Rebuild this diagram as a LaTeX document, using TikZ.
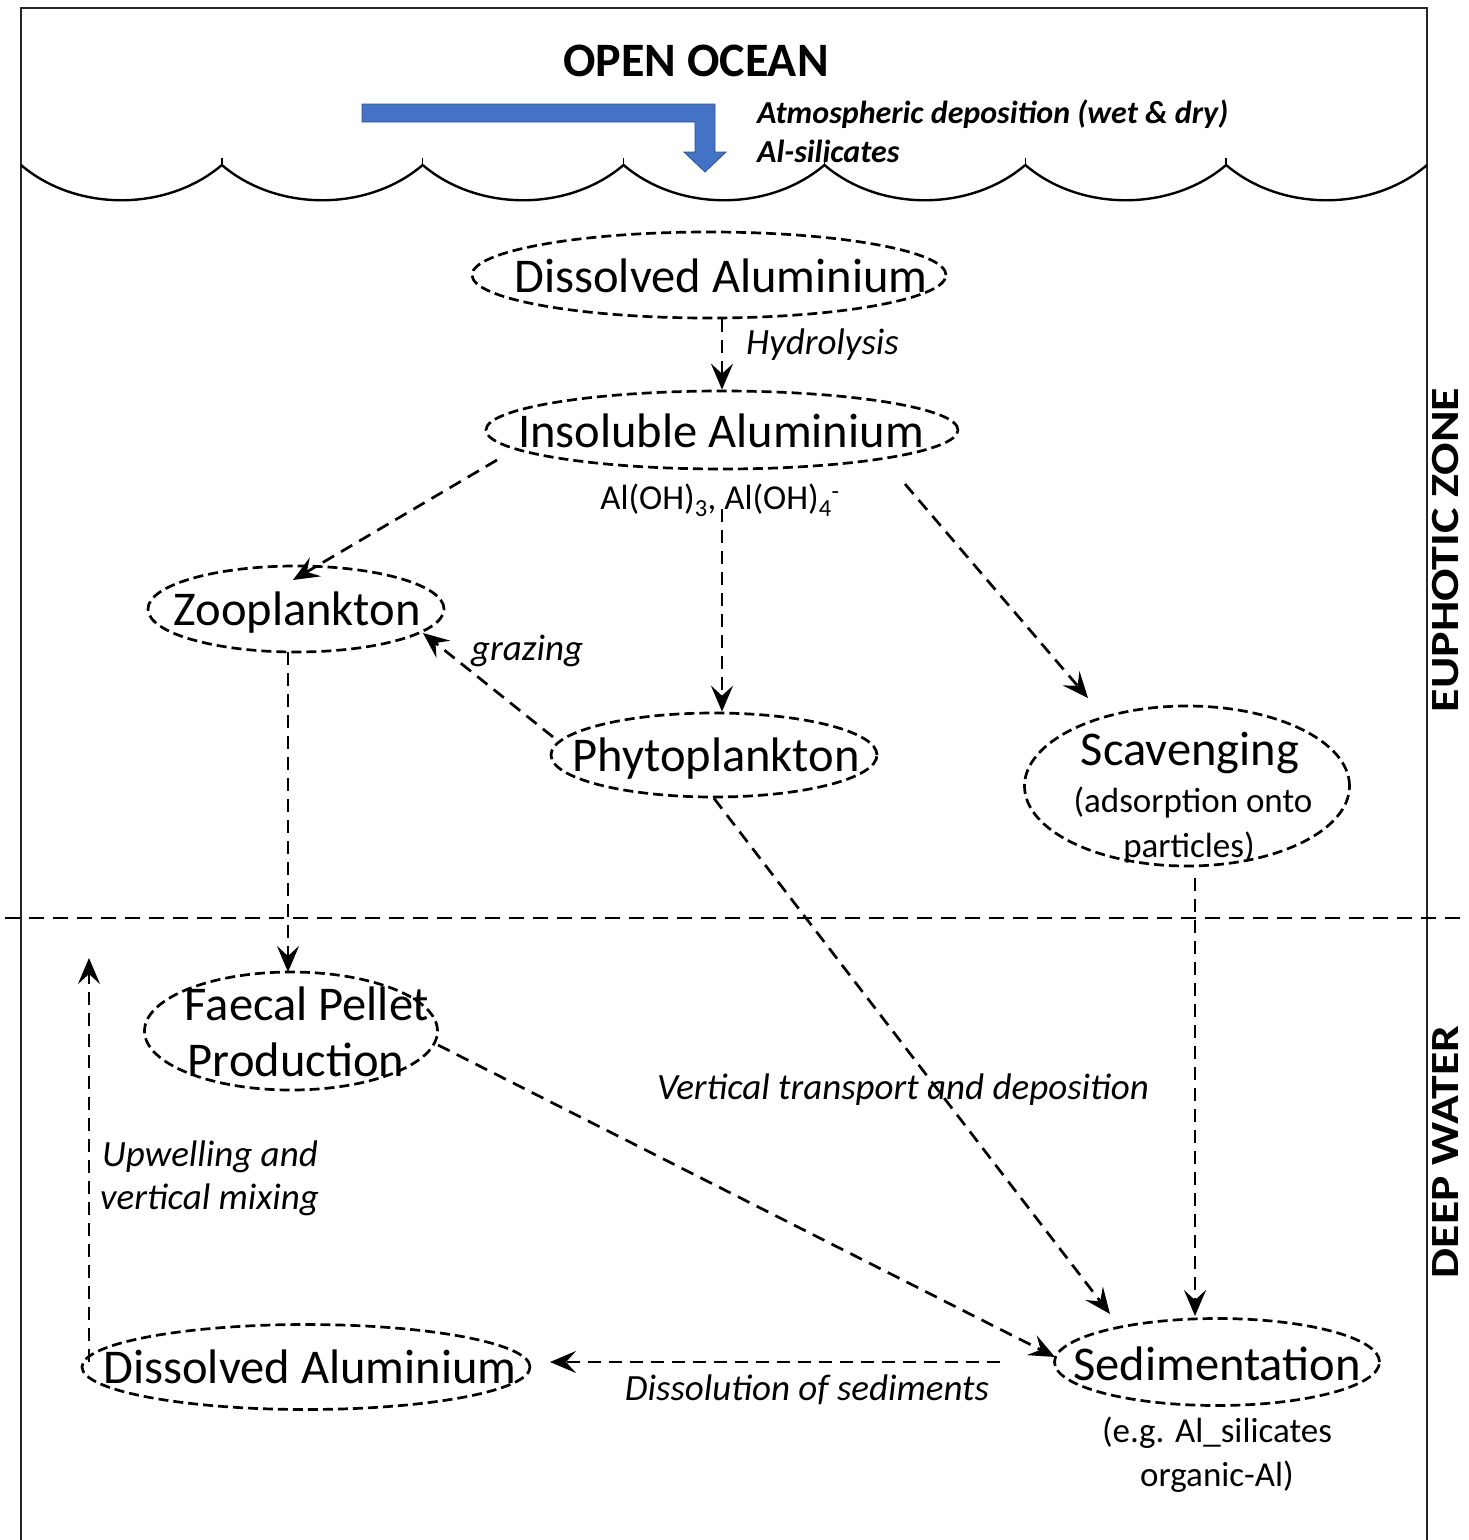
\documentclass[tikz,border=0pt]{standalone}
\usepackage{fontspec}
\setmainfont{Carlito}
\usetikzlibrary{arrows.meta,shapes.geometric}
\definecolor{oblue}{HTML}{4472C4}
\definecolor{oblueedge}{HTML}{2F528F}
\begin{document}
\begin{tikzpicture}[x=1pt,y=-1pt,
  oval/.style={draw=black, ellipse, line width=2.7pt, dash pattern=on 10pt off 5pt, inner sep=0pt},
  conn/.style={line width=2.7pt, dash pattern=on 13pt off 8pt, -{Stealth[length=26pt,width=22pt,inset=10pt]}},
  big/.style={font=\fontsize{48.5}{54}\selectfont, anchor=base, inner sep=0pt},
  lab/.style={font=\fontsize{37}{42}\selectfont\itshape, anchor=base, inner sep=0pt},
  small/.style={font=\fontsize{35}{40}\selectfont, anchor=base, inner sep=0pt},
  zone/.style={font=\fontsize{40}{46}\selectfont\bfseries, rotate=90, inner sep=0pt},
  frame/.style={line width=2.8pt, draw=black!85},
  wave/.style={line width=2.4pt, draw=black},
  divider/.style={line width=2.6pt, dash pattern=on 15pt off 9pt},
]
\useasboundingbox (0,0) rectangle (1468,1540);

% frame
\draw[frame] (21,1540) -- (21,8) -- (1427,8) -- (1427,1540);

% waves
\foreach \i in {0,...,6}{
  \pgfmathsetmacro{\xa}{21+200.857*\i}
  \pgfmathsetmacro{\xb}{21+200.857*(\i+1)}
  \draw[wave] (\xa,165) .. controls (\xa+55,212) and (\xb-55,212) .. (\xb,165);
}
\foreach \i in {1,...,6}{
  \pgfmathsetmacro{\xa}{21+200.857*\i}
  \draw[line width=1.4pt] (\xa,165) -- (\xa,158);
}

% blue deposition arrow
\fill[oblue, draw=oblueedge, line width=0.8pt]
  (362,104) -- (715,104) -- (715,152) -- (726,152) -- (705,172) -- (684,152)
  -- (695,152) -- (695,122) -- (362,122) -- cycle;

% titles
\node[font=\fontsize{48}{54}\selectfont\bfseries, anchor=base, inner sep=0pt] (title) at (696,76) {OPEN OCEAN};
\node[font=\fontsize{32}{38}\selectfont\bfseries\itshape, anchor=base west, inner sep=0pt] (atm) at (757,123) {Atmospheric deposition (wet \& dry)};
\node[font=\fontsize{32}{38}\selectfont\bfseries\itshape, anchor=base west, inner sep=0pt] (alsil) at (757,162) {Al-silicates};

% zone labels
\node[zone] (euph) at (1446,550) {\scalebox{1.2}[1]{EUPHOTIC ZONE}};
\node[zone] (deep) at (1446,1152) {\scalebox{1.19}[1]{DEEP WATER}};

% divider
\draw[divider] (5,918) -- (1463,918);

% ovals
\node[oval, minimum width=474pt, minimum height=86pt] (da) at (709,275) {};
\node[big] (dat) at (721,292) {Dissolved Aluminium};
\node[oval, minimum width=472pt, minimum height=78pt] (ia) at (722,430) {};
\node[big] (iat) at (721,447) {Insoluble Aluminium};
\node[small] (oh) at (720,509) {Al(OH)\textsubscript{3}, Al(OH)\textsubscript{4}\textsuperscript{-}};
\node[oval, minimum width=296pt, minimum height=86pt] (zp) at (296,609) {};
\node[big] (zpt) at (297,625) {Zooplankton};
\node[oval, minimum width=326pt, minimum height=84pt] (ph) at (714,755) {};
\node[big] (pht) at (716,771) {Phytoplankton};
\node[oval, minimum width=325pt, minimum height=160pt] (sc) at (1187,786) {};
\node[big] (sct) at (1190,765) {Scavenging};
\node[small] (sct2) at (1193,812) {(adsorption onto};
\node[small] (sct3) at (1189,857) {particles)};
\node[oval, minimum width=293pt, minimum height=118pt] (fp) at (291,1031) {};
\node[big] (fpt1) at (307,1020) {Faecal Pellet};
\node[big] (fpt2) at (296,1076) {Production};
\node[oval, minimum width=325pt, minimum height=87pt] (sd) at (1217,1362) {};
\node[big] (sdt) at (1217,1380) {Sedimentation};
\node[small] (sdn1) at (1217,1442) {(e.g. Al\_silicates};
\node[small] (sdn2) at (1217,1486) {organic-Al)};
\node[oval, minimum width=448pt, minimum height=85pt] (db) at (306,1367) {};
\node[big] (dbt) at (310,1383) {Dissolved Aluminium};

% labels
\node[lab, anchor=base west] (hyd) at (746,354) {Hydrolysis};
\node[lab, anchor=base west] (graz) at (471,660) {grazing};
\node[lab] (vert) at (903,1099) {Vertical transport and deposition};
\node[lab, anchor=base west] (up1) at (102,1166) {Upwelling and};
\node[lab, anchor=base west] (up2) at (100,1209) {vertical mixing};
\node[lab] (diss) at (807,1400) {Dissolution of sediments};

% connectors
\coordinate (uptip) at (89,958);
\draw[conn] (ia.north |- da.south) -- (ia.north);
\draw[conn] (ia.south |- oh.base) -- (ia.south |- ph.north);
\draw[conn] ([shift={(-225,30)}]ia.center) -- ([shift={(-3,-29)}]zp.center);
\draw[conn] ([shift={(183,54)}]ia.center) -- ([shift={(-99,-88)}]sc.center);
\draw[conn] ([shift={(-161,-18)}]ph.center) -- ([shift={(127,24)}]zp.center);
\draw[conn] ([shift={(-8,43)}]zp.center) -- ([shift={(-3,-59)}]fp.center);
\draw[conn] (ph.south) -- ([shift={(-107,-48)}]sd.center);
\draw[conn] ([shift={(147,14)}]fp.center) -- ([shift={(-162,-5)}]sd.center);
\draw[conn] ([shift={(8,92)}]sc.center) -- ([shift={(-22,-46)}]sd.center);
\draw[conn] ([shift={(-217,0)}]sd.center) -- ([shift={(244,-5)}]db.center);
\draw[conn] ([shift={(-217,-5)}]db.center) -- (uptip);
\end{tikzpicture}
\end{document}
